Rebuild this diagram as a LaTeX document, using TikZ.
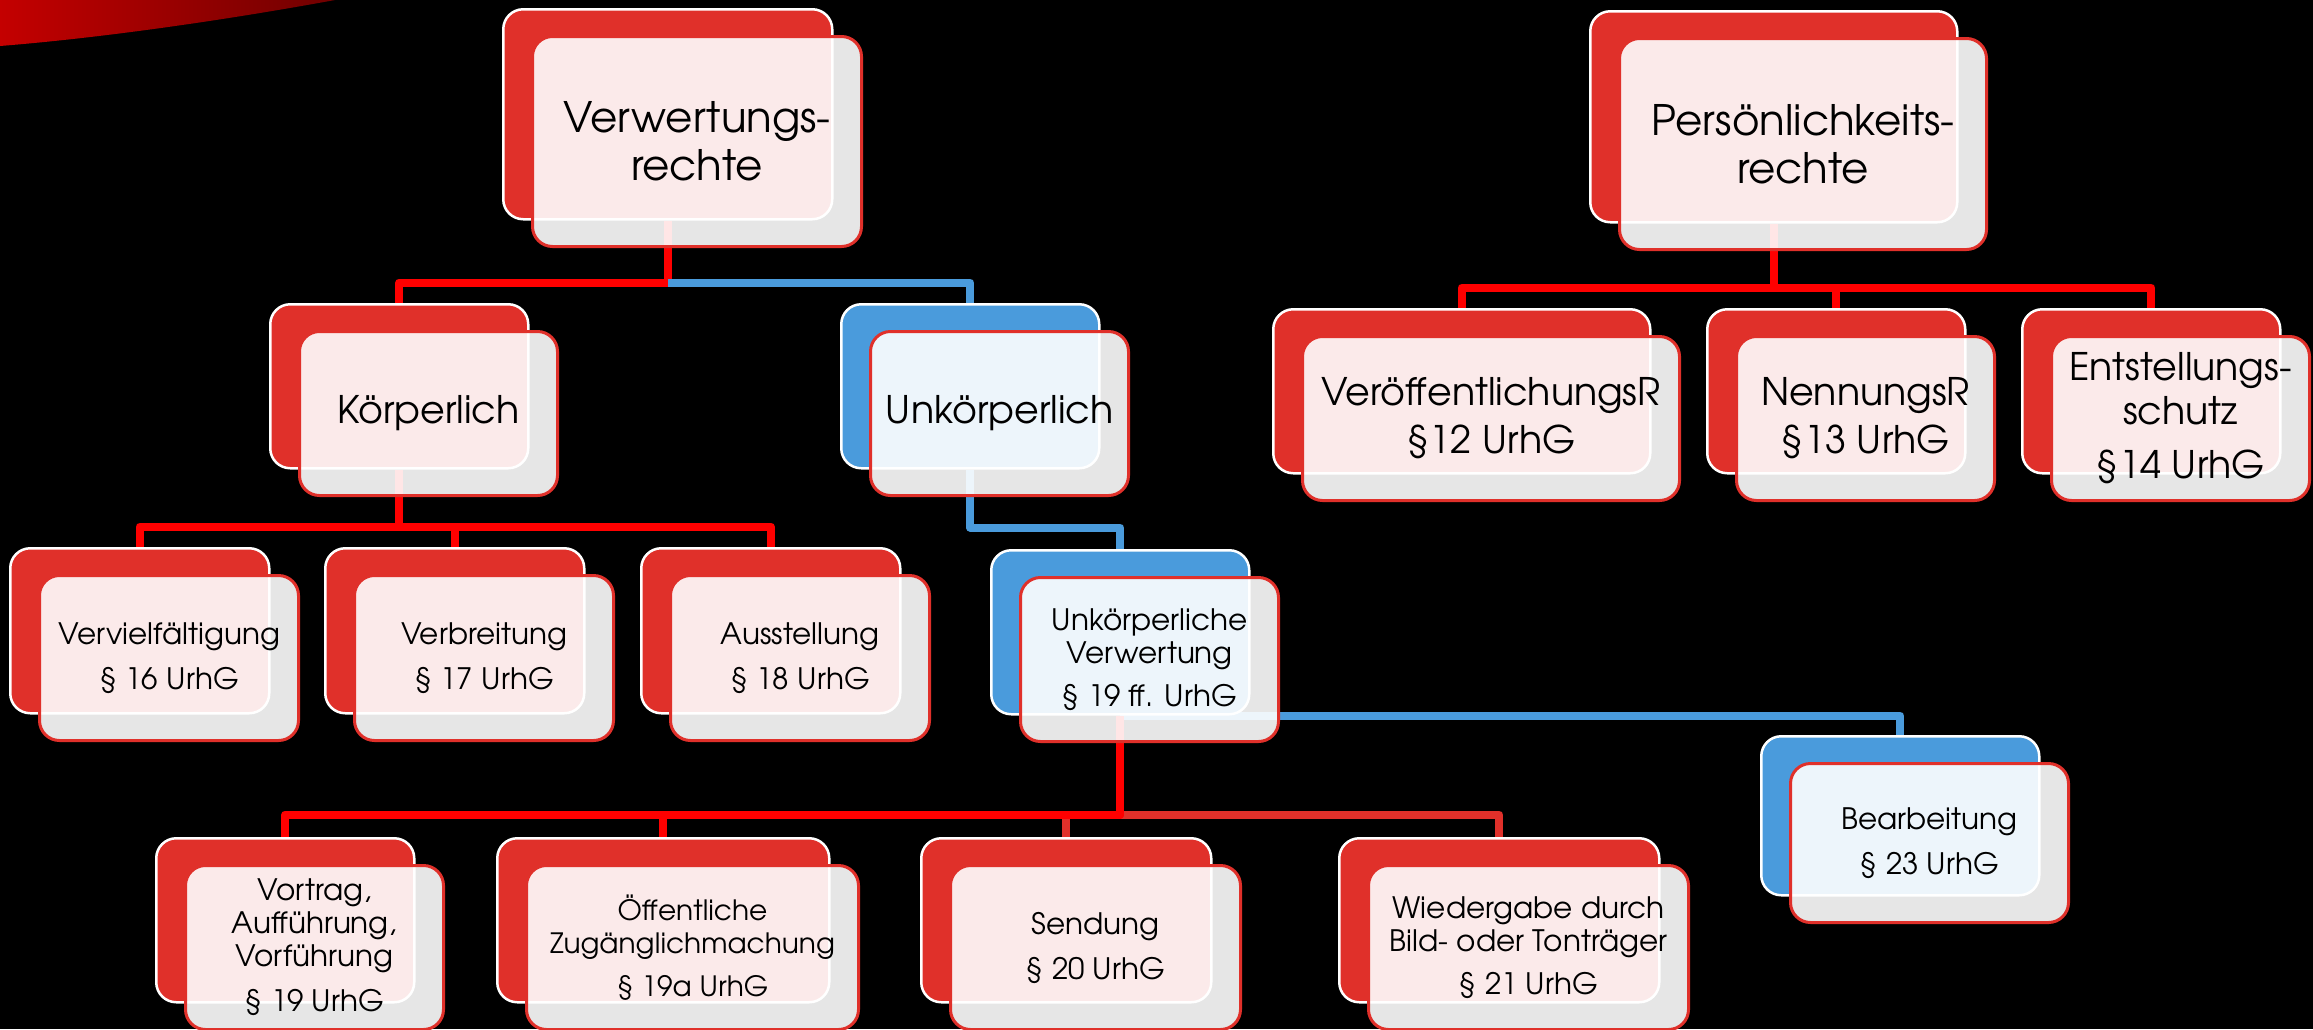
\documentclass[tikz,border=0pt]{standalone}
\usepackage{fontspec}
\setmainfont{TeX Gyre Adventor}
\usetikzlibrary{backgrounds}

\definecolor{boxred}{RGB}{224,48,42}
\definecolor{boxblue}{RGB}{74,155,220}
\definecolor{linered}{RGB}{255,0,0}
\definecolor{swooshlight}{RGB}{196,0,0}
\definecolor{swooshdark}{RGB}{105,0,0}

\tikzset{
  backbox/.style={draw=white, line width=2.5pt, rounded corners=20pt, anchor=north west, inner sep=0pt},
  frontbox/.style={draw=boxred, line width=3pt, rounded corners=20pt, fill=white, fill opacity=0.9,
    text opacity=1, anchor=north west, align=center, inner sep=0pt},
  bigtext/.style={font=\fontsize{42}{48}\selectfont},
  midtext/.style={font=\fontsize{38}{44}\selectfont},
  smalltext/.style={font=\fontsize{29.5}{33}\selectfont},
  redlink/.style={draw=linered, line width=8pt, line join=round},
  bluelink/.style={draw=boxblue, line width=8pt, line join=round},
  darklink/.style={draw=boxred, line width=8pt, line join=round},
}

% #1 name, #2 back colour, #3/#4 top left, #5/#6 size, #7 text style, #8 text
\newcommand{\rightbox}[8]{%
  \node[backbox, fill=#2, minimum width=#5pt, minimum height=#6pt] (#1) at (#3,#4) {};
  \node[frontbox, #7, minimum width=#5pt, minimum height=#6pt] (#1t) at (#3+29,#4+27) {#8};
}

\begin{document}
\begin{tikzpicture}[x=1pt,y=-1pt]
  \useasboundingbox (0,0) rectangle (2313,1029);

  % top row
  \rightbox{vr}{boxred}{502}{8}{329}{210}{bigtext}{Verwertungs-\\rechte}
  \rightbox{pr}{boxred}{1589}{10}{367}{211}{bigtext}{Persönlichkeits-\\rechte}

  % second row
  \rightbox{kp}{boxred}{269}{303}{258}{164}{midtext}{Körperlich}
  \rightbox{uk}{boxblue}{840}{303}{258}{164}{midtext}{Unkörperlich}
  \rightbox{vo}{boxred}{1272}{308}{377}{164}{midtext}{VeröffentlichungsR\\[4pt]§12 UrhG}
  \rightbox{nn}{boxred}{1706}{308}{258}{164}{midtext}{NennungsR\\[4pt]§13 UrhG}
  \rightbox{es}{boxred}{2021}{308}{258}{164}{midtext}{Entstellungs-\\schutz\\[10pt]§14 UrhG}

  % third row
  \rightbox{vv}{boxred}{9}{547}{259}{165}{smalltext}{Vervielfältigung\\[12pt]§ 16 UrhG}
  \rightbox{vb}{boxred}{324}{547}{259}{165}{smalltext}{Verbreitung\\[12pt]§ 17 UrhG}
  \rightbox{au}{boxred}{640}{547}{259}{165}{smalltext}{Ausstellung\\[12pt]§ 18 UrhG}
  \rightbox{uv}{boxblue}{990}{549}{258}{164}{smalltext}{Unkörperliche\\Verwertung\\[10pt]§ 19 ff. UrhG}
  \rightbox{be}{boxblue}{1760}{735}{278}{159}{smalltext}{Bearbeitung\\[12pt]§ 23 UrhG}

  % bottom row
  \rightbox{vt}{boxred}{155}{837}{258}{164}{smalltext}{Vortrag,\\Aufführung,\\Vorführung\\[12pt]§ 19 UrhG}
  \rightbox{oz}{boxred}{496}{837}{332}{164}{smalltext, font=\fontsize{28}{33}\selectfont}{Öffentliche\\Zugänglichmachung\\[10pt]§ 19a UrhG}
  \rightbox{se}{boxred}{920}{837}{290}{164}{smalltext}{Sendung\\[12pt]§ 20 UrhG}
  \rightbox{wd}{boxred}{1338}{837}{320}{164}{smalltext}{Wiedergabe durch\\Bild- oder Tonträger\\[10pt]§ 21 UrhG}

  \begin{scope}[on background layer]
    \fill[black] (0,0) rectangle (2313,1029);
    \shade[left color=swooshlight, right color=swooshdark]
      (0,-5) -- (362,-5) .. controls (230,20) and (100,38) .. (0,46) -- cycle;

    % connectors
    \draw[redlink] (vr.south) -- ++(0,62) -| (kp.north);
    \draw[bluelink] (vr.south) ++(0,62) -| (uk.north);
    \foreach \c in {vo,nn,es}
      \draw[redlink] (pr.south) -- ++(0,64) -| (\c.north);
    \foreach \c in {vv,vb,au}
      \draw[redlink] (kp.south) -- ++(0,57) -| (\c.north);
    \draw[bluelink] (uk.south) -- ++(0,58) -| (uv.north);
    \draw[bluelink] (uv.south) -| (be.north);
    \foreach \c in {se,wd}
      \draw[darklink] (uv.south) ++(0,99) -| (\c.north);
    \foreach \c in {vt,oz}
      \draw[redlink] (uv.south) -- ++(0,99) -| (\c.north);
  \end{scope}
\end{tikzpicture}
\end{document}
